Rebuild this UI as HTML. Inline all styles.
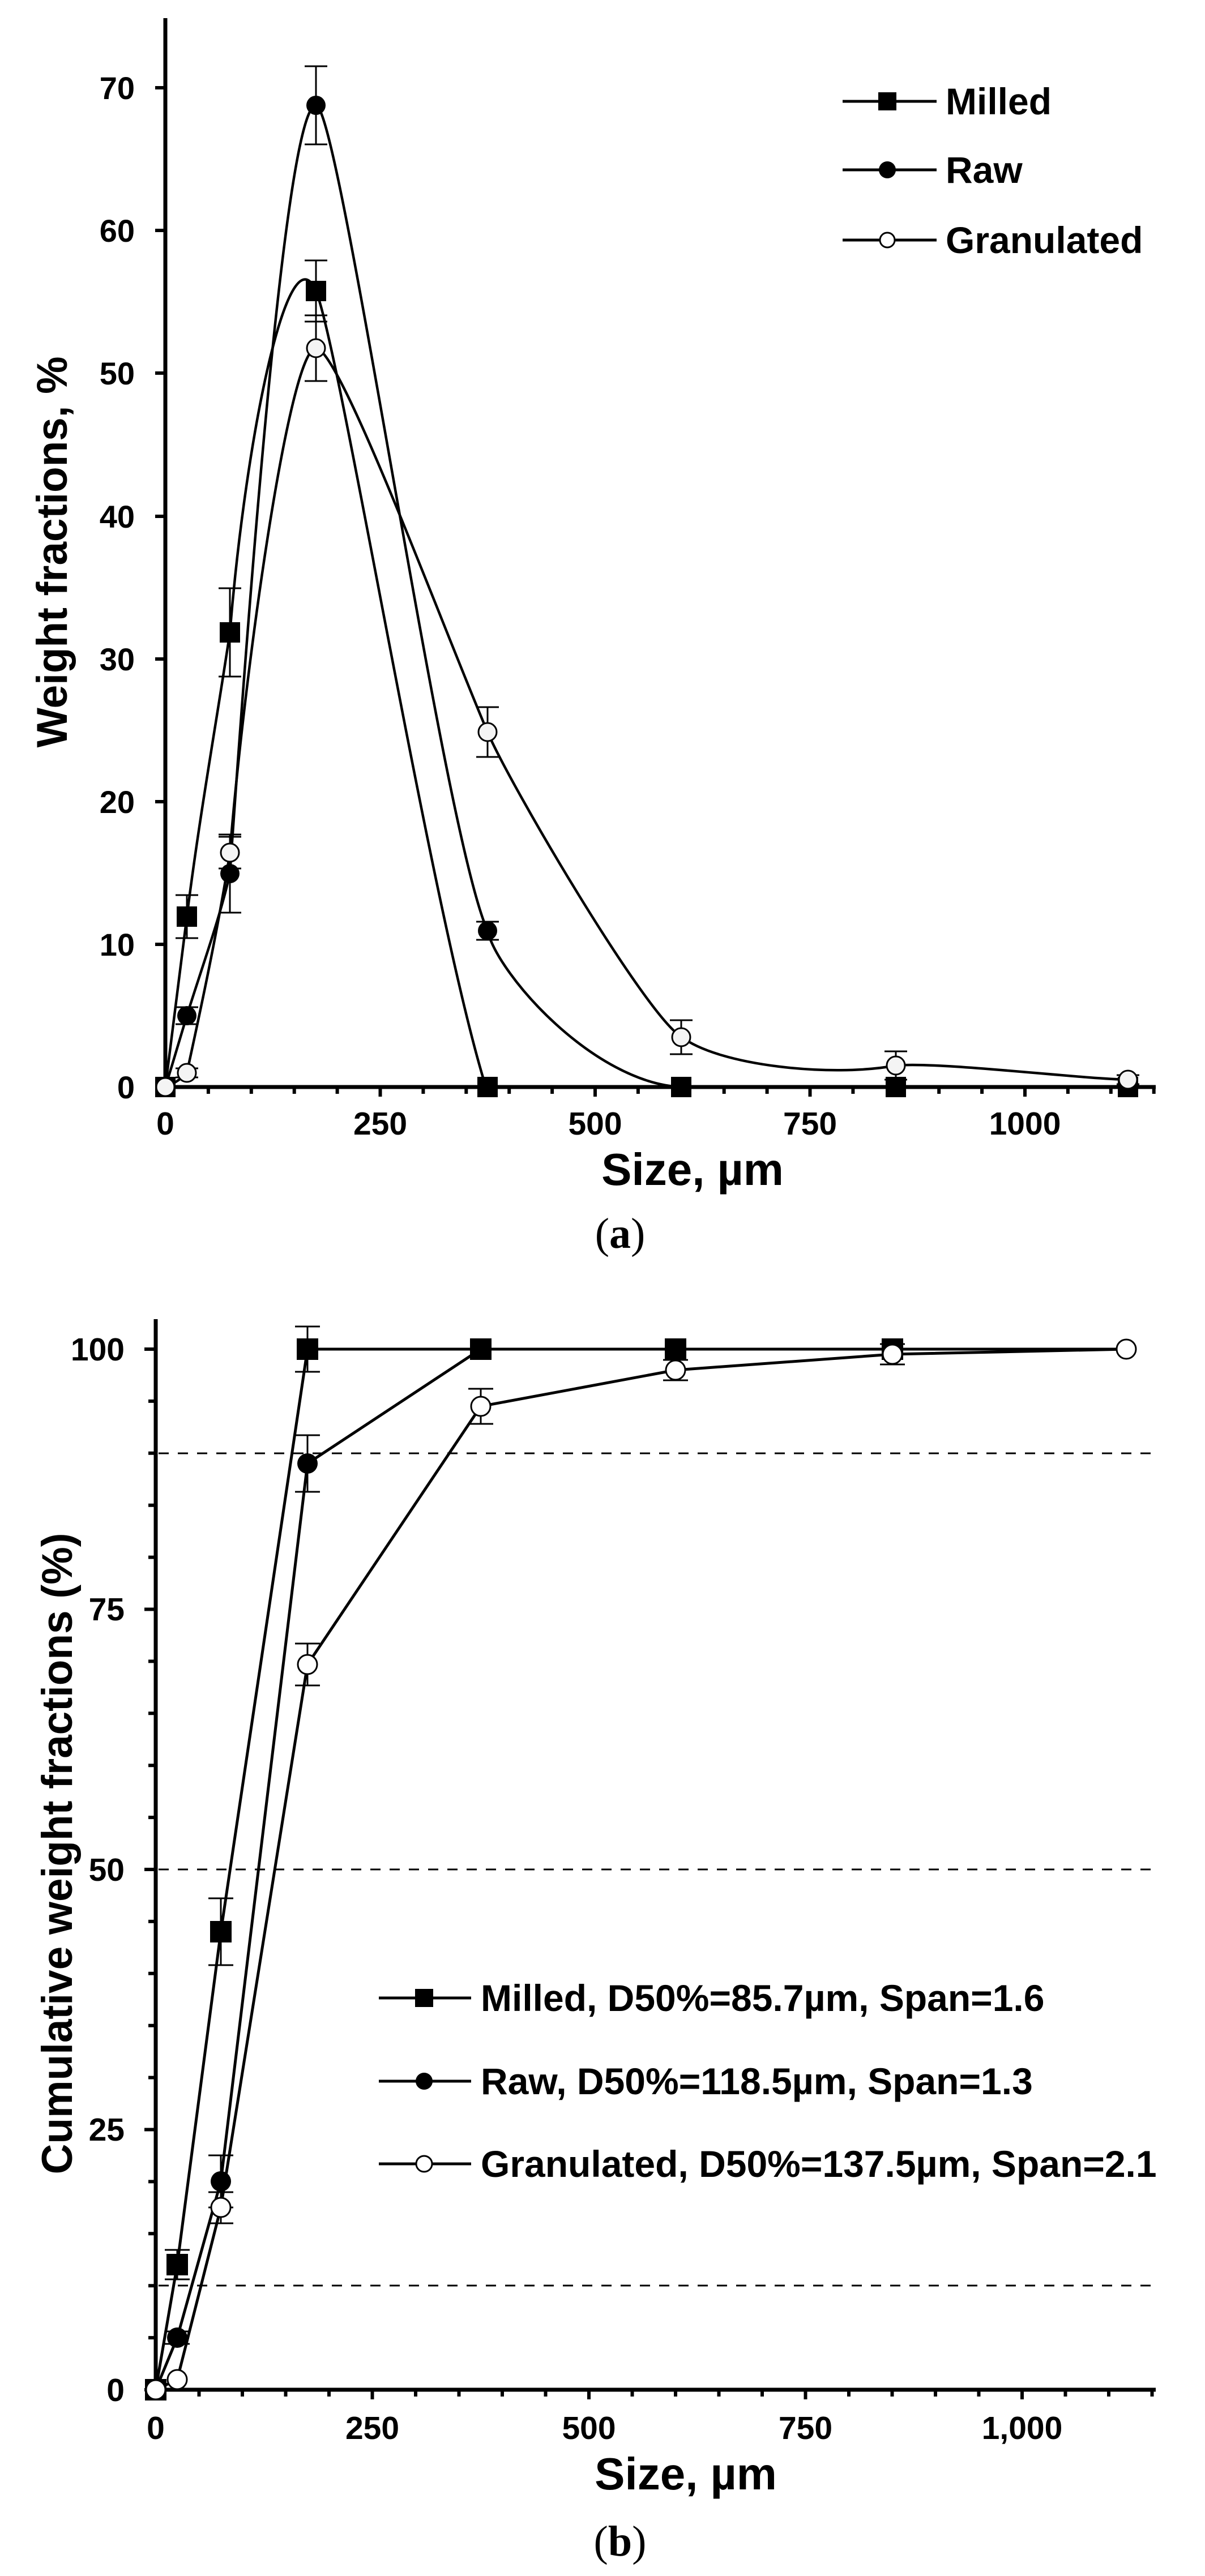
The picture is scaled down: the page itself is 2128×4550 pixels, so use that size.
<!DOCTYPE html>
<html>
<head>
<meta charset="utf-8">
<style>
html,body{margin:0;padding:0;background:#fff;}
svg{display:block;}
.t{font-family:"Liberation Sans",Arial,sans-serif;font-weight:bold;fill:#000;}
.s{font-family:"Liberation Serif","Times New Roman",serif;fill:#000;}
</style>
</head>
<body>
<svg width="2128" height="4550" viewBox="0 0 2128 4550" xmlns="http://www.w3.org/2000/svg">
<rect x="0" y="0" width="2128" height="4550" fill="#fff"/>

<!-- ================= CHART A ================= -->
<g stroke="#000" stroke-width="7" fill="none">
  <path d="M292,32V1923"/>
  <path d="M289,1920H2041"/>
</g>
<g stroke="#000" stroke-width="6" fill="none">
  <path d="M274,1920H292M274,1668H292M274,1416H292M274,1164H292M274,912H292M274,659H292M274,407H292M274,155H292"/>
</g>
<g stroke="#000" stroke-width="6" fill="none">
  <path d="M292,1920V1937M671.5,1920V1937M1051,1920V1937M1430.5,1920V1937M1810,1920V1937"/>
  <path d="M367.9,1920V1932M443.8,1920V1932M519.7,1920V1932M595.6,1920V1932M747.4,1920V1932M823.3,1920V1932M899.2,1920V1932M975.1,1920V1932M1126.9,1920V1932M1202.8,1920V1932M1278.7,1920V1932M1354.6,1920V1932M1506.4,1920V1932M1582.3,1920V1932M1658.2,1920V1932M1734.1,1920V1932M1885.9,1920V1932M1961.8,1920V1932M2037.7,1920V1932"/>
</g>
<g class="t" font-size="56" text-anchor="end">
  <text x="238" y="1940">0</text>
  <text x="238" y="1688">10</text>
  <text x="238" y="1436">20</text>
  <text x="238" y="1184">30</text>
  <text x="238" y="932">40</text>
  <text x="238" y="679">50</text>
  <text x="238" y="427">60</text>
  <text x="238" y="175">70</text>
</g>
<g class="t" font-size="57" text-anchor="middle">
  <text x="292" y="2004">0</text>
  <text x="671.5" y="2004">250</text>
  <text x="1051" y="2004">500</text>
  <text x="1430.5" y="2004">750</text>
  <text x="1810" y="2004">1000</text>
</g>
<text class="t" font-size="80" x="1223" y="2093" text-anchor="middle">Size, µm</text>
<text class="t" font-size="76" text-anchor="middle" textLength="691" lengthAdjust="spacingAndGlyphs" transform="translate(118,975) rotate(-90)">Weight fractions, %</text>

<g transform="translate(0,3)">
  <g stroke="#000" stroke-width="3" fill="none">
    <path d="M330,1578V1654M310,1578H350M310,1654H350M406,1036V1192M386,1036H426M386,1192H426M558,457V565M538,457H578M538,565H578"/>
    <path d="M330,1776V1806M310,1776H350M310,1806H350M406,1471V1609M386,1471H426M386,1609H426M558,114V252M538,114H578M538,252H578M861,1625V1657M841,1625H881M841,1657H881"/>
    <path d="M330,1884V1900M310,1884H350M310,1900H350M406,1475V1531M386,1475H426M386,1531H426M558,554V670M538,554H578M538,670H578M861,1246V1334M841,1246H881M841,1334H881M1203,1799V1859M1183,1799H1223M1183,1859H1223M1582,1854V1904M1562,1854H1602M1562,1904H1602M1992,1896V1912M1972,1896H2012M1972,1912H2012"/>
  </g>
  <g stroke="#000" stroke-width="4.5" fill="none" stroke-linejoin="round">
    <path d="M292,1917 C305,1815 318,1710 330,1616 C352,1440 384,1262 406,1114 C435,760 510,400 558,511 C600,610 760,1600 858,1917 L1992,1917"/>
    <path d="M292,1917 C305,1875 318,1832 330,1791 C355,1710 388,1620 406,1540 C440,1050 505,183 558,183 C600,183 780,1460 861,1641 C880,1720 1050,1910 1203,1917 L1992,1917"/>
    <path d="M292,1917 C305,1912 318,1905 330,1892 C350,1800 385,1640 406,1503 C430,1200 510,612 558,612 C600,612 780,1100 861,1290 C901,1384 1140,1790 1203,1828 C1270,1880 1470,1900 1582,1879 C1660,1872 1900,1902 1992,1904"/>
  </g>
  <g fill="#000">
    <rect x="274" y="1899" width="36" height="36"/>
    <rect x="312" y="1598" width="36" height="36"/>
    <rect x="388" y="1096" width="36" height="36"/>
    <rect x="540" y="493" width="36" height="36"/>
    <rect x="843" y="1899" width="36" height="36"/>
    <rect x="1185" y="1899" width="36" height="36"/>
    <rect x="1564" y="1899" width="36" height="36"/>
    <rect x="1974" y="1899" width="36" height="36"/>
  </g>
  <g fill="#000">
    <circle cx="330" cy="1791" r="17"/>
    <circle cx="406" cy="1540" r="17"/>
    <circle cx="558" cy="183" r="17"/>
    <circle cx="861" cy="1641" r="17"/>
  </g>
  <g fill="#f4f4f4" stroke="#000" stroke-width="3">
    <circle cx="292" cy="1917" r="16"/>
    <circle cx="330" cy="1892" r="16"/>
    <circle cx="406" cy="1503" r="16"/>
    <circle cx="558" cy="612" r="16"/>
    <circle cx="861" cy="1290" r="16"/>
    <circle cx="1203" cy="1829" r="16"/>
    <circle cx="1582" cy="1879" r="16"/>
    <circle cx="1992" cy="1904" r="16"/>
  </g>
</g>

<g stroke="#000" stroke-width="5" fill="none">
  <path d="M1488,179H1654M1488,300H1654M1488,424H1654"/>
</g>
<rect x="1551" y="163" width="32" height="32" fill="#000"/>
<circle cx="1567" cy="300" r="15" fill="#000"/>
<circle cx="1567" cy="424" r="13" fill="#fff" stroke="#000" stroke-width="3"/>
<g class="t" font-size="66">
  <text x="1670" y="202">Milled</text>
  <text x="1670" y="323">Raw</text>
  <text x="1670" y="447">Granulated</text>
</g>

<text class="s" font-size="76" x="1095" y="2204" text-anchor="middle">(<tspan font-weight="bold">a</tspan>)</text>

<!-- ================= CHART B ================= -->
<g stroke="#000" stroke-width="3" stroke-dasharray="18 16" fill="none">
  <path d="M280,2567H2040M280,3302H2040M280,4037H2040"/>
</g>
<g stroke="#000" stroke-width="7" fill="none">
  <path d="M275,2330V4224"/>
  <path d="M272,4221H2041"/>
</g>
<g stroke="#000" stroke-width="6" fill="none">
  <path d="M255,4221H275M255,3761.5H275M255,3302H275M255,2842.5H275M255,2383H275"/>
  <path d="M262,4129.1H275M262,4037.2H275M262,3945.3H275M262,3853.4H275M262,3669.6H275M262,3577.7H275M262,3485.8H275M262,3393.9H275M262,3210.1H275M262,3118.2H275M262,3026.3H275M262,2934.4H275M262,2750.6H275M262,2658.7H275M262,2566.8H275M262,2474.9H275"/>
</g>
<g stroke="#000" stroke-width="6" fill="none">
  <path d="M657.5,4221V4238M1040,4221V4238M1422.5,4221V4238M1805,4221V4238"/>
  <path d="M351.5,4221V4233M428,4221V4233M504.5,4221V4233M581,4221V4233M734,4221V4233M810.5,4221V4233M887,4221V4233M963.5,4221V4233M1116.5,4221V4233M1193,4221V4233M1269.5,4221V4233M1346,4221V4233M1499,4221V4233M1575.5,4221V4233M1652,4221V4233M1728.5,4221V4233M1881.5,4221V4233M1958,4221V4233M2034.5,4221V4233"/>
</g>
<g class="t" font-size="57" text-anchor="end">
  <text x="220" y="4241">0</text>
  <text x="220" y="3781">25</text>
  <text x="220" y="3322">50</text>
  <text x="220" y="2862">75</text>
  <text x="220" y="2403">100</text>
</g>
<g class="t" font-size="57" text-anchor="middle">
  <text x="275" y="4308">0</text>
  <text x="657.5" y="4308">250</text>
  <text x="1040" y="4308">500</text>
  <text x="1422.5" y="4308">750</text>
  <text x="1805" y="4308">1,000</text>
</g>
<text class="t" font-size="80" x="1211" y="4397" text-anchor="middle">Size, µm</text>
<text class="t" font-size="76" text-anchor="middle" textLength="1133" lengthAdjust="spacingAndGlyphs" transform="translate(127,3274) rotate(-90)">Cumulative weight fractions (%)</text>

<g stroke="#000" stroke-width="3" fill="none">
  <path d="M313,3974V4026M291,3974H335M291,4026H335M390,3353V3471M368,3353H412M368,3471H412M543,2343V2423M521,2343H565M521,2423H565"/>
  <path d="M313,4118V4140M291,4118H335M291,4140H335M390,3807V3899M368,3807H412M368,3899H412M543,2535V2635M521,2535H565M521,2635H565"/>
  <path d="M390,3872V3927M368,3872H412M368,3927H412M543,2903V2977M521,2903H565M521,2977H565M849,2453V2515M827,2453H871M827,2515H871M1193,2402V2438M1171,2402H1215M1171,2438H1215M1576,2374V2410M1554,2374H1598M1554,2410H1598"/>
</g>
<g stroke="#000" stroke-width="5" fill="none" stroke-linejoin="round">
  <polyline points="275,4221 313,4000 390,3412 543,2383 849,2383 1193,2383 1576,2383 1989,2383"/>
  <polyline points="275,4221 313,4129 390,3853 543,2585 849,2383 1193,2383 1576,2383 1989,2383"/>
  <polyline points="275,4221 313,4203 390,3899 543,2940 849,2484 1193,2420 1576,2392 1989,2383"/>
</g>
<g fill="#000">
  <rect x="256" y="4202" width="38" height="38"/>
  <rect x="294" y="3981" width="38" height="38"/>
  <rect x="371" y="3393" width="38" height="38"/>
  <rect x="524" y="2364" width="38" height="38"/>
  <rect x="830" y="2364" width="38" height="38"/>
  <rect x="1174" y="2364" width="38" height="38"/>
  <rect x="1557" y="2364" width="38" height="38"/>
</g>
<g fill="#000">
  <circle cx="313" cy="4129" r="18"/>
  <circle cx="390" cy="3853" r="18"/>
  <circle cx="543" cy="2585" r="18"/>
</g>
<g fill="#fff" stroke="#000" stroke-width="3">
  <circle cx="275" cy="4221" r="17"/>
  <circle cx="313" cy="4203" r="17"/>
  <circle cx="390" cy="3899" r="17"/>
  <circle cx="543" cy="2940" r="17"/>
  <circle cx="849" cy="2484" r="17"/>
  <circle cx="1193" cy="2420" r="17"/>
  <circle cx="1576" cy="2392" r="17"/>
  <circle cx="1989" cy="2383" r="17"/>
</g>

<g stroke="#000" stroke-width="5" fill="none">
  <path d="M669,3529H832M669,3676H832M669,3822H832"/>
</g>
<rect x="733" y="3513" width="32" height="32" fill="#000"/>
<circle cx="749" cy="3676" r="15" fill="#000"/>
<circle cx="749" cy="3822" r="14" fill="#fff" stroke="#000" stroke-width="3"/>
<g class="t" font-size="66">
  <text x="849" y="3552">Milled, D50%=85.7µm, Span=1.6</text>
  <text x="849" y="3699">Raw, D50%=118.5µm, Span=1.3</text>
  <text x="849" y="3845">Granulated, D50%=137.5µm, Span=2.1</text>
</g>

<text class="s" font-size="76" x="1095" y="4514" text-anchor="middle">(<tspan font-weight="bold">b</tspan>)</text>
</svg>
</body>
</html>
